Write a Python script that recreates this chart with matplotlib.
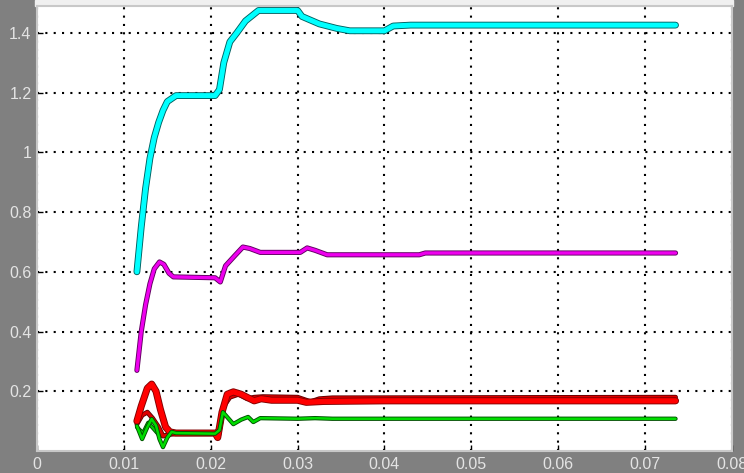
import matplotlib
matplotlib.use("Agg")
import matplotlib.pyplot as plt
import matplotlib.patheffects as pe
from matplotlib.patches import Rectangle

# scope traces: time [s] and signal values
t_cyan = [0.0115, 0.0120, 0.0125, 0.0130, 0.0135, 0.0140, 0.0145, 0.0150, 0.0160,
          0.0205, 0.0210, 0.0215, 0.0222, 0.0230, 0.0240, 0.0255, 0.0300, 0.0305,
          0.0325, 0.0345, 0.0360, 0.0400, 0.0410, 0.0430, 0.0735]
y_cyan = [0.60, 0.75, 0.88, 0.98, 1.05, 1.10, 1.14, 1.17, 1.19,
          1.19, 1.21, 1.30, 1.37, 1.40, 1.44, 1.475, 1.475, 1.455,
          1.43, 1.415, 1.407, 1.407, 1.423, 1.426, 1.426]

t_mag = [0.0115, 0.0120, 0.0125, 0.0130, 0.0135, 0.0141, 0.0146, 0.0152, 0.0157,
         0.0205, 0.0211, 0.0217, 0.0228, 0.0237, 0.0245, 0.0257, 0.0303, 0.0311,
         0.0320, 0.0334, 0.0440, 0.0447, 0.0455, 0.0735]
y_mag = [0.27, 0.40, 0.49, 0.56, 0.61, 0.633, 0.625, 0.595, 0.583,
         0.58, 0.566, 0.62, 0.655, 0.683, 0.678, 0.665, 0.665, 0.68,
         0.672, 0.657, 0.657, 0.663, 0.663, 0.663]

t_red1 = [0.0115, 0.0120, 0.0127, 0.0132, 0.0137, 0.0142, 0.0148, 0.0153, 0.0160,
          0.0205, 0.0208, 0.0213, 0.0219, 0.0226, 0.0235, 0.0243, 0.0250, 0.0258,
          0.0270, 0.0300, 0.0310, 0.0330, 0.0400, 0.0735]
y_red1 = [0.10, 0.15, 0.21, 0.224, 0.20, 0.14, 0.08, 0.064, 0.060,
          0.060, 0.045, 0.13, 0.19, 0.198, 0.19, 0.178, 0.168, 0.175,
          0.170, 0.170, 0.163, 0.166, 0.168, 0.168]

t_red2 = [0.0115, 0.0121, 0.0127, 0.0133, 0.0140, 0.0145, 0.0152, 0.0160, 0.0205,
          0.0209, 0.0215, 0.0222, 0.0232, 0.0242, 0.0250, 0.0260, 0.0300, 0.0315,
          0.0325, 0.0340, 0.0735]
y_red2 = [0.09, 0.12, 0.13, 0.11, 0.08, 0.05, 0.055, 0.058, 0.058,
          0.05, 0.15, 0.18, 0.19, 0.175, 0.18, 0.182, 0.18, 0.165,
          0.175, 0.178, 0.180]

t_green1 = [0.0115, 0.0121, 0.0127, 0.0132, 0.0137, 0.0141, 0.0145, 0.0150, 0.0155,
            0.0160, 0.0205, 0.0210, 0.0214, 0.0220, 0.0226, 0.0235, 0.0243, 0.0249,
            0.0257, 0.0300, 0.0320, 0.0340, 0.0735]
y_green1 = [0.084, 0.040, 0.080, 0.107, 0.085, 0.040, 0.013, 0.045, 0.064,
            0.060, 0.058, 0.070, 0.130, 0.110, 0.090, 0.105, 0.114, 0.097,
            0.110, 0.108, 0.110, 0.108, 0.108]

t_green2 = [0.0115, 0.0122, 0.0128, 0.0134, 0.0140, 0.0146, 0.0152, 0.0160]
y_green2 = [0.080, 0.060, 0.095, 0.075, 0.055, 0.050, 0.060, 0.062]

xticks = [0, 0.01, 0.02, 0.03, 0.04, 0.05, 0.06, 0.07, 0.08]
xlabels = ["0", "0.01", "0.02", "0.03", "0.04", "0.05", "0.06", "0.07", "0.08"]
yticks = [0.2, 0.4, 0.6, 0.8, 1.0, 1.2, 1.4]
ylabels = ["0.2", "0.4", "0.6", "0.8", "1", "1.2", "1.4"]

plt.rcParams["font.family"] = ["Liberation Sans", "DejaVu Sans"]

fig = plt.figure(figsize=(7.44, 4.73), dpi=100, facecolor="#808080")
ax = fig.add_axes([37 / 744, 1 - 451 / 473, 695 / 744, 445 / 473])
ax.set_facecolor("white")
fig.add_artist(Rectangle((35 / 744, 1 - 6 / 473), 698 / 744, 6 / 473,
                         transform=fig.transFigure, color="#f0f0f0", zorder=0))


def trace(t, y, color, edge, lw):
    ax.plot(t, y, color=color, lw=lw, solid_joinstyle="round",
            solid_capstyle="round",
            path_effects=[pe.Stroke(linewidth=lw + 1.3, foreground=edge), pe.Normal()])


trace(t_cyan, y_cyan, "#00ffff", "#006060", 3.6)
trace(t_mag, y_mag, "#ee00ee", "#600060", 2.4)
trace(t_green2, y_green2, "#00cc00", "#005000", 1.6)
trace(t_red2, y_red2, "#dd0000", "#600000", 2.2)
trace(t_red1, y_red1, "#ff0000", "#800000", 3.8)
trace(t_green1, y_green1, "#00dd00", "#005000", 1.8)

ax.set_xlim(0, 0.08)
ax.set_ylim(0, 1.49)
ax.set_xticks(xticks)
ax.set_xticklabels(xlabels)
ax.set_yticks(yticks)
ax.set_yticklabels(ylabels)
ax.tick_params(direction="in", length=4, width=1, color="black",
               labelcolor="#e4e4e4", labelsize=11.5, pad=4)
ax.grid(True, color="black", linestyle=(0, (1, 3)), linewidth=1.5)
for s in ax.spines.values():
    s.set_color("#c8c8c8")
    s.set_linewidth(1.5)

fig.savefig("out.png", dpi=100, facecolor=fig.get_facecolor())
